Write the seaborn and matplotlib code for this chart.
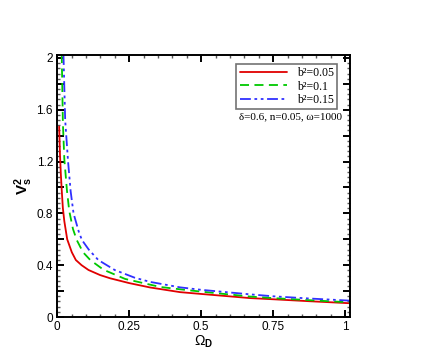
import numpy as np
import pandas as pd
import seaborn as sns
import matplotlib.pyplot as plt
from matplotlib.ticker import MultipleLocator, FixedLocator

# ------------ DATA ------------
x_b005 = [0.007, 0.010, 0.013, 0.016, 0.020, 0.025, 0.035, 0.051, 0.065, 0.085,
          0.109, 0.149, 0.184, 0.25, 0.323, 0.427, 0.5, 0.67, 0.75, 0.875, 1.02]
y_b005 = [1.47, 1.25, 1.10, 0.98, 0.84, 0.74, 0.60, 0.50, 0.44, 0.40,
          0.363, 0.324, 0.299, 0.262, 0.228, 0.192, 0.178, 0.146, 0.137, 0.122, 0.106]

x_b01 = [0.016, 0.020, 0.025, 0.034, 0.042, 0.055, 0.068, 0.09, 0.115, 0.161,
         0.236, 0.358, 0.427, 0.5, 0.67, 0.75, 0.875, 1.02]
y_b01 = [2.03, 1.50, 1.22, 0.98, 0.82, 0.68, 0.595, 0.50, 0.44, 0.365,
         0.294, 0.232, 0.214, 0.196, 0.158, 0.146, 0.130, 0.113]

x_b015 = [0.022, 0.028, 0.038, 0.047, 0.057, 0.075, 0.086, 0.11, 0.143, 0.20,
          0.27, 0.323, 0.427, 0.5, 0.67, 0.75, 0.875, 1.02]
y_b015 = [2.03, 1.52, 1.20, 0.97, 0.80, 0.66, 0.595, 0.52, 0.44, 0.363,
          0.303, 0.271, 0.229, 0.210, 0.175, 0.160, 0.143, 0.126]

labels = ["b\u00b2=0.05", "b\u00b2=0.1", "b\u00b2=0.15"]
colors = ["#e00000", "#00c800", "#3030ff"]
styles = ["-", (0, (5, 3)), (0, (6, 2, 1.5, 2, 1.5, 2))]
# --------------------------------------------------------

sns.set_style("ticks")
plt.rcParams["font.family"] = ["Liberation Sans", "DejaVu Sans"]
plt.rcParams["mathtext.fontset"] = "custom"
plt.rcParams["mathtext.rm"] = "Liberation Sans"
plt.rcParams["mathtext.it"] = "Liberation Sans"
plt.rcParams["mathtext.bf"] = "Liberation Sans:bold"

fig = plt.figure(figsize=(4.36, 3.57), dpi=100)
ax = fig.add_axes([0.131, 0.112, 0.672, 0.734])

series = [(x_b005, y_b005), (x_b01, y_b01), (x_b015, y_b015)]
for (xs, ys), lab, c, ls in zip(series, labels, colors, styles):
    df = pd.DataFrame({"omega": xs, "v2": ys})
    sns.lineplot(data=df, x="omega", y="v2", ax=ax, color=c, lw=1.3,
                 linestyle=ls, label=lab, sort=False, estimator=None)

ax.set_xlim(0, 1.017)
ax.set_ylim(0, 2.023)

ax.xaxis.set_major_locator(FixedLocator([0, 0.25, 0.5, 0.75, 1.0]))
ax.set_xticklabels(["0", "0.25", "0.5", "0.75", "1"])
ax.xaxis.set_minor_locator(MultipleLocator(0.05))
ax.yaxis.set_major_locator(MultipleLocator(0.2))
ax.set_yticklabels(["0" if v == 0 else (f"{v:g}" if round(v / 0.2) % 2 == 0 else "")
                    for v in ax.get_yticks()])
ax.yaxis.set_minor_locator(MultipleLocator(0.04))

ax.tick_params(which="both", direction="in", top=True, right=True, width=1.0,
               labelsize=8.5, pad=3, colors="black")
ax.tick_params(which="major", length=5, width=1.4)
ax.tick_params(which="minor", length=2.5, color="0.35")
for s in ax.spines.values():
    s.set_linewidth(1.4)
    s.set_color("black")

ax.set_xlabel(r"$\Omega_\mathbf{D}$", fontsize=10, labelpad=0, color="black")
ax.set_ylabel(r"$\mathbf{V_s^2}$", fontsize=11, labelpad=1, color="black")

leg = ax.legend(loc="upper right", bbox_to_anchor=(0.956, 0.966), frameon=True,
                fancybox=False, edgecolor="0.45", handlelength=4.0, framealpha=1,
                prop={"family": "Liberation Serif", "size": 8.5},
                borderpad=0.3, labelspacing=0.1, handletextpad=0.8,
                borderaxespad=0)
leg.get_frame().set_linewidth(1.2)
for t in leg.get_texts():
    t.set_color("black")

ax.text(0.795, 0.763, "\u03b4=0.6, n=0.05, \u03c9=1000", transform=ax.transAxes,
        ha="center", va="center", fontsize=8, family="Liberation Serif",
        color="black", zorder=10)

fig.savefig("out.png", dpi=100)
